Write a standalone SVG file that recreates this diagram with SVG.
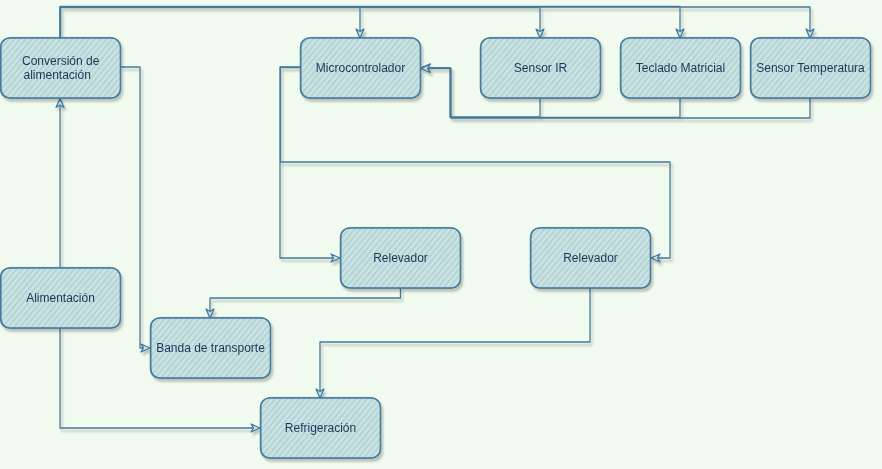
<svg xmlns="http://www.w3.org/2000/svg" width="882" height="469" viewBox="0 0 882 469">
<defs>
<pattern id="hatch" patternUnits="userSpaceOnUse" width="4.4" height="10" patternTransform="rotate(40)">
<rect x="0" y="0" width="4.4" height="10" fill="#d5e0dc"/>
<rect x="0" y="0" width="2" height="10" fill="#a8d8de"/>
</pattern>
<filter id="sh" x="-10%" y="-10%" width="130%" height="140%">
<feDropShadow dx="2" dy="3" stdDeviation="1.2" flood-color="#000" flood-opacity="0.22"/>
</filter>
<marker id="arr" markerUnits="userSpaceOnUse" viewBox="-10 -5 12 10" refX="0" refY="0" markerWidth="12" markerHeight="10" orient="auto">
<path d="M-9,-4 L0,0 L-9,4 L-6.5,0 Z" fill="#c6e2e2" stroke="#457B9D" stroke-width="1.3" stroke-linejoin="round"/>
</marker>
</defs>
<style>
.bg{fill:#F1FAEE}
.n{fill:url(#hatch);stroke:#457B9D;stroke-width:1.5}
.n2{fill:none;stroke:#457B9D;stroke-width:0.9;opacity:0.8}
.t{font-family:"Liberation Sans",Arial,Helvetica,sans-serif;font-size:12px;fill:#1D3557;text-anchor:middle}
.ts{font-family:"Liberation Sans",Arial,Helvetica,sans-serif;font-size:12px;fill:#1D3557}
.e{fill:none;stroke:#457B9D;stroke-width:1.3;stroke-linejoin:round}
.node{filter:url(#sh)}
</style>
<rect class="bg" x="0" y="0" width="882" height="469"/>

<g id="connectors" filter="url(#sh)">
<path id="e1" class="e" d="M60 38 V7 H360 V38" marker-end="url(#arr)"/>
<path id="e2" class="e" d="M60.5 38 V7.5 H540 V38" marker-end="url(#arr)"/>
<path id="e3" class="e" d="M60 38 V6.5 H680 V38" marker-end="url(#arr)"/>
<path id="e4" class="e" d="M60.5 38 V7 H810 V38" marker-end="url(#arr)"/>
<path id="e5" class="e" d="M540 98 V117 H450 V68 H421" marker-end="url(#arr)"/>
<path id="e6" class="e" d="M680 98 V117.5 H450.5 V68 H421" marker-end="url(#arr)"/>
<path id="e7" class="e" d="M810 98 V118 H451 V68.5 H421" marker-end="url(#arr)"/>
<path id="e8" class="e" d="M300 67 H280 V258 H340" marker-end="url(#arr)"/>
<path id="e9" class="e" d="M300 67.5 H280.5 V162 H670 V258 H651" marker-end="url(#arr)"/>
<path id="e10" class="e" d="M400.5 288 V298 H210 V318" marker-end="url(#arr)"/>
<path id="e11" class="e" d="M121 67 H140 V348 H150" marker-end="url(#arr)"/>
<path id="e12" class="e" d="M60 268 V98.5" marker-end="url(#arr)"/>
<path id="e13" class="e" d="M60 328 V428 H260" marker-end="url(#arr)"/>
<path id="e14" class="e" d="M590 288 V342 H320 V398" marker-end="url(#arr)"/>
</g>

<g id="conversion" class="node">
<rect class="n" x="0.5" y="38" width="120" height="60" rx="9"/>
<rect class="n2" x="1.2" y="37.4" width="119.2" height="60.8" rx="10"/>
<text class="ts" x="22" y="65">Conversión de</text>
<text class="ts" x="23.5" y="79">alimentación</text>
</g>

<g id="microcontrolador" class="node">
<rect class="n" x="300.5" y="38" width="120" height="60" rx="9"/>
<rect class="n2" x="301" y="37.4" width="119.4" height="60.8" rx="10"/>
<text class="t" x="360.5" y="72">Microcontrolador</text>
</g>

<g id="sensor-ir" class="node">
<rect class="n" x="480.5" y="38" width="120" height="60" rx="9"/>
<rect class="n2" x="481" y="37.4" width="119.4" height="60.8" rx="10"/>
<text class="t" x="540.5" y="72">Sensor IR</text>
</g>

<g id="teclado" class="node">
<rect class="n" x="620.5" y="38" width="120" height="60" rx="9"/>
<rect class="n2" x="621" y="37.4" width="119.4" height="60.8" rx="10"/>
<text class="t" x="680.5" y="72">Teclado Matricial</text>
</g>

<g id="sensor-temp" class="node">
<rect class="n" x="750.5" y="38" width="120" height="60" rx="9"/>
<rect class="n2" x="751" y="37.4" width="119.4" height="60.8" rx="10"/>
<text class="t" x="810.5" y="72">Sensor Temperatura</text>
</g>

<g id="relevador1" class="node">
<rect class="n" x="340.5" y="228" width="120" height="60" rx="9"/>
<rect class="n2" x="341" y="227.4" width="119.4" height="60.8" rx="10"/>
<text class="t" x="400.5" y="262">Relevador</text>
</g>

<g id="relevador2" class="node">
<rect class="n" x="530.5" y="228" width="120" height="60" rx="9"/>
<rect class="n2" x="531" y="227.4" width="119.4" height="60.8" rx="10"/>
<text class="t" x="590.5" y="262">Relevador</text>
</g>

<g id="alimentacion" class="node">
<rect class="n" x="0.5" y="268" width="120" height="60" rx="9"/>
<rect class="n2" x="1.2" y="267.4" width="119.2" height="60.8" rx="10"/>
<text class="t" x="60.5" y="302">Alimentación</text>
</g>

<g id="banda" class="node">
<rect class="n" x="150.5" y="318" width="120" height="60" rx="9"/>
<rect class="n2" x="151" y="317.4" width="119.4" height="60.8" rx="10"/>
<text class="t" x="210.5" y="352">Banda de transporte</text>
</g>

<g id="refrigeracion" class="node">
<rect class="n" x="260.5" y="398" width="120" height="60" rx="9"/>
<rect class="n2" x="261" y="397.4" width="119.4" height="60.8" rx="10"/>
<text class="t" x="320.5" y="432">Refrigeración</text>
</g>
</svg>
